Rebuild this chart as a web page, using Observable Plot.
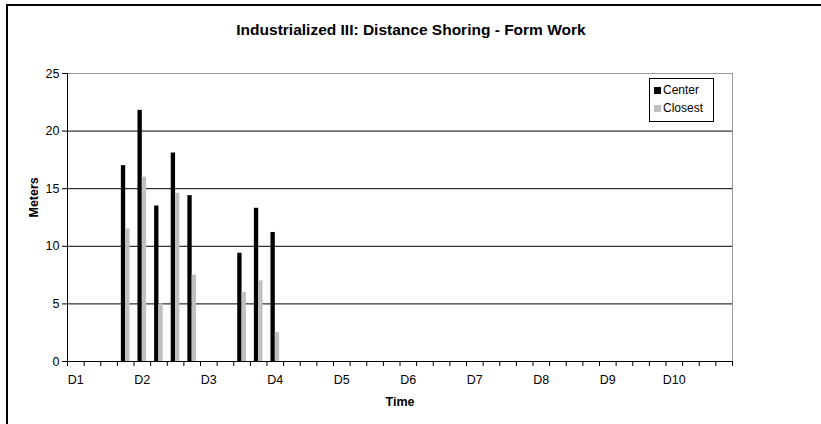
<!DOCTYPE html>
<html>
<head>
<meta charset="utf-8">
<script src="https://cdn.jsdelivr.net/npm/d3@7"></script>
<script src="https://cdn.jsdelivr.net/npm/@observablehq/plot@0.6"></script>
<style>
  html, body { margin: 0; padding: 0; background: #fff; }
  #wrap { position: relative; width: 821px; height: 424px; overflow: hidden; }
  #frame { position: absolute; left: 6px; top: 4px; width: 900px; height: 500px; border-left: 2px solid #000; border-top: 2px solid #000; pointer-events: none; }
  #legend { position: absolute; left: 649px; top: 78px; width: 63px; height: 42px; border: 1px solid #000; background: #fff; font-family: "Liberation Sans", Arial, sans-serif; font-size: 12px; }
  .li { position: absolute; left: 4px; display: flex; align-items: center; }
  .sw { width: 7px; height: 7px; margin-right: 2px; }
</style>
</head>
<body>
<div id="wrap">
  <div id="chart"></div>
  <div id="frame"></div>
  <div id="legend">
    <div class="li" style="top:4px"><div class="sw" style="background:#000"></div>Center</div>
    <div class="li" style="top:22px"><div class="sw" style="background:#c0c0c0"></div>Closest</div>
  </div>
</div>
<script>
const title = "Industrialized III: Distance Shoring - Form Work";
const xTitle = "Time";
const yTitle = "Meters";
const slotCount = 40;
const dayLabels = ["D1","D2","D3","D4","D5","D6","D7","D8","D9","D10"];
const slotsWithData = [3, 4, 5, 6, 7, 10, 11, 12];
const centerValues = [17.0, 21.8, 13.5, 18.1, 14.4, 9.4, 13.3, 11.2];
const closestValues = [11.5, 16.0, 5.0, 14.6, 7.5, 6.0, 7.0, 2.5];
const series = ["Center", "Closest"];
const colors = ["#000000", "#c0c0c0"];
const yTicks = [0, 5, 10, 15, 20, 25];

const barW = 0.26;
const rows = [];
slotsWithData.forEach((s, i) => {
  rows.push({slot: s, series: "Center", value: centerValues[i], x1: s + 0.5 - barW, x2: s + 0.5});
  rows.push({slot: s, series: "Closest", value: closestValues[i], x1: s + 0.5, x2: s + 0.5 + barW});
});
const labelPos = dayLabels.map((d, i) => i * 4 + 0.5);
const font = "'Liberation Sans', Arial, sans-serif";

const chart = Plot.plot({
  width: 821,
  height: 424,
  marginLeft: 67,
  marginRight: 89,
  marginTop: 73,
  marginBottom: 63,
  style: {fontFamily: font, fontSize: "11px", color: "#000", background: "transparent"},
  x: {domain: [0, slotCount]},
  y: {domain: [0, 25]},
  color: {domain: series, range: colors},
  marks: [
    Plot.ruleY(yTicks.filter(v => v > 0 && v < 25), {stroke: "#000", strokeWidth: 1}),
    Plot.ruleY([25], {stroke: "#999", strokeWidth: 1}),
    Plot.ruleX([slotCount], {stroke: "#999", strokeWidth: 1}),
    Plot.rectY(rows, {x1: "x1", x2: "x2", y1: 0, y2: "value", fill: "series", inset: 0}),
    Plot.ruleX([0], {stroke: "#000", strokeWidth: 1}),
    Plot.ruleY([0], {stroke: "#000", strokeWidth: 1}),
    Plot.axisY({ticks: yTicks, tickSize: 5, tickPadding: 3, fontSize: 12.5, label: null}),
    Plot.axisX({ticks: d3.range(0, slotCount + 1), tickSize: 5, tickFormat: () => "", label: null}),
    Plot.axisX({ticks: labelPos, tickSize: 0, tickPadding: 14, tickFormat: (d, i) => dayLabels[i], fontSize: 12.5, label: null}),
    Plot.text([xTitle], {frameAnchor: "bottom", dy: 44, fontWeight: "bold", fontSize: 12.5}),
    Plot.text([yTitle], {frameAnchor: "left", dx: -34, rotate: -90, fontWeight: "bold", fontSize: 12.5}),
    Plot.text([title], {frameAnchor: "top", dx: 11, dy: -50, fontWeight: "bold", fontSize: 15.5})
  ]
});
document.getElementById("chart").appendChild(chart);
</script>
</body>
</html>
